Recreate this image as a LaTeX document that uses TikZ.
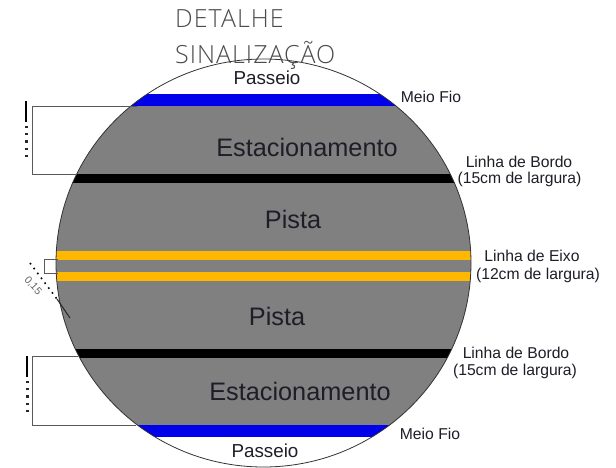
\documentclass[tikz,border=0pt]{standalone}
\usepackage{fontspec}
\usetikzlibrary{shapes.geometric}
\setmainfont{Liberation Sans}
\newfontfamily\titlefont[LetterSpace=4]{Open Sans Light}
\definecolor{roadgray}{RGB}{128,128,128}
\definecolor{axisyellow}{RGB}{255,184,0}
\definecolor{curbblue}{RGB}{0,0,235}
\definecolor{labeltext}{RGB}{30,30,40}
\begin{document}
\begin{tikzpicture}[x=1pt,y=-1pt,
  big/.style={font=\fontsize{25.3}{28}\selectfont,text=labeltext,inner sep=0pt},
  mid/.style={font=\fontsize{18.8}{22}\selectfont,text=labeltext,inner sep=0pt},
  small/.style={font=\fontsize{15.7}{18}\selectfont,text=labeltext,inner sep=0pt},
  ttl/.style={font=\titlefont\fontsize{25}{28}\selectfont,text=black!70,inner sep=0pt,anchor=west},
  leader/.style={draw=black!65,line width=0.9pt},
  marksolid/.style={draw=black,line width=2.8pt},
  markdots/.style={draw=black!85,line width=3pt,dash pattern=on 2.2pt off 5pt}]
\useasboundingbox (0,0) rectangle (616,467);
\fill[white] (0,0) rectangle (616,467);
\coordinate (C) at (263.5,263);
\begin{scope}
  \clip (C) ellipse [x radius=207.5, y radius=204];
  \fill[roadgray] (0,100) rectangle (616,431);
  \fill[curbblue] (0,94) rectangle (616,106);
  \fill[curbblue] (0,425) rectangle (616,437);
  \fill[black] (0,174) rectangle (616,183);
  \fill[black] (0,349) rectangle (616,358);
  \fill[axisyellow] (0,251) rectangle (616,260);
  \fill[axisyellow] (0,272) rectangle (616,281);
\end{scope}
\node[ellipse,draw=black!80,line width=0.8pt,minimum width=415pt,minimum height=408pt,inner sep=0pt] (road) at (C) {};

\node[ttl] (t1) at (175,19) {DETALHE};
\node[ttl] (t2) at (175,55) {SINALIZAÇÃO};

\node[mid] (pa) at (267,78) {Passeio};
\node[big] (e1) at (307,147) {Estacionamento};
\node[big] (p1) at (293,219) {Pista};
\node[big] (p2) at (277,316) {Pista};
\node[big] (e2) at (300,391) {Estacionamento};
\node[mid] (pb) at (265,451) {Passeio};

\node[small] (mf1) at (431,97) {Meio Fio};
\node[small] (lb1a) at (519,162) {Linha de Bordo};
\node[small] (lb1b) at (519.5,179) {(15cm de largura)};
\node[small] (lea) at (532,256) {Linha de Eixo};
\node[small] (leb) at (538,275) {(12cm de largura)};
\node[small] (lb2a) at (516,353) {Linha de Bordo};
\node[small] (lb2b) at (515,371) {(15cm de largura)};
\node[small] (mf2) at (430,434) {Meio Fio};

% dimension leaders
\coordinate (a1) at (137,106); \coordinate (a2) at (32,106);
\coordinate (a3) at (32,174);  \coordinate (a4) at (77,174);
\draw[leader] (a1) -- (a2) -- (a3) -- (a4);
\coordinate (m1) at (26,101); \coordinate (m2) at (26,122); \coordinate (m3) at (26,159);
\draw[marksolid] (m1) -- (m2);
\draw[markdots] (m2) ++(0,4) -- (m3);

\coordinate (b1) at (136,425); \coordinate (b2) at (32,425);
\coordinate (b3) at (32,356);  \coordinate (b4) at (78,356);
\draw[leader] (b1) -- (b2) -- (b3) -- (b4);
\coordinate (n1) at (27,356); \coordinate (n2) at (27,377); \coordinate (n3) at (27,413);
\draw[marksolid] (n1) -- (n2);
\draw[markdots] (n2) ++(0,4) -- (n3);

\coordinate (c1) at (58,259); \coordinate (c2) at (44,259);
\coordinate (c3) at (44,273); \coordinate (c4) at (58,273);
\draw[leader] (c1) -- (c2) -- (c3) -- (c4);
\coordinate (d1) at (30,263); \coordinate (d2) at (57,299); \coordinate (d3) at (70,318);
\draw[draw=black,line width=1.6pt,dash pattern=on 1.6pt off 4.5pt] (d1) -- (d2);
\draw[draw=black!85,line width=1pt] (d2) -- (d3);
\node[font=\fontsize{10.5}{12}\selectfont,text=black!60,rotate=-48,inner sep=0pt] (dim) at (33,286) {0,15};
\end{tikzpicture}
\end{document}
